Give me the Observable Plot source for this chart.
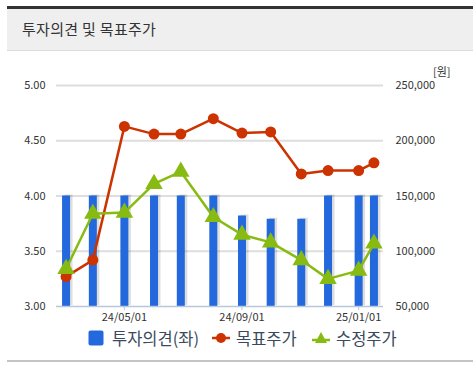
<!DOCTYPE html>
<html><head><meta charset="utf-8">
<script src="https://cdn.jsdelivr.net/npm/d3@7"></script>
<script src="https://cdn.jsdelivr.net/npm/@observablehq/plot@0.6"></script>
<style>
body{margin:0;background:#fff;font-family:"Noto Sans CJK KR","Noto Sans",sans-serif;}
#wrap{position:relative;width:473px;height:366px;overflow:hidden;}
#hdr{position:absolute;left:7px;top:6px;width:466px;height:41px;background:#efefef;border-top:3px solid #333;border-bottom:1px solid #dcdcdc;}
#title{position:absolute;left:15px;top:9px;font-size:15px;color:#333;letter-spacing:0.3px;}
#chart{position:absolute;left:0;top:55px;}
#unit{position:absolute;left:433px;top:63px;font-size:11px;color:#333;}
#legend{position:absolute;left:0;top:327px;width:473px;height:22px;font-size:16.5px;color:#3a4a5c;}
.li{position:absolute;top:0;display:flex;align-items:center;height:22px;}
#bottom{position:absolute;left:7px;top:360px;width:466px;height:2px;background:#c4c4c4;}
</style></head>
<body><div id="wrap">
<div id="hdr"><div id="title">투자의견 및 목표주가</div></div>
<div id="chart"></div>
<div id="unit">[원]</div>
<div id="legend"></div>
<div id="bottom"></div>
</div>
<script>
const dates = ["2024-03-01","2024-03-29","2024-05-01","2024-06-01","2024-06-29","2024-08-02","2024-09-01","2024-10-01","2024-11-02","2024-11-30","2025-01-01","2025-01-17"];
const opinion = [4.00,4.00,4.00,4.00,4.00,4.00,3.82,3.79,3.79,4.00,4.00,4.00];
const targetPrice = [77000,92000,213000,206000,206000,220000,207000,208000,170000,173000,173000,180000];
const adjPrice = [84000,134000,135000,161000,172000,131000,115000,108000,92000,75000,82500,107000];
const xTicks = ["2024-05-01","2024-09-01","2025-01-01"];
const leftTicks = [3.0,3.5,4.0,4.5,5.0];
const rightTicks = [50000,100000,150000,200000,250000];
const legendLabels = ["투자의견(좌)","목표주가","수정주가"];

const blue = "#2368dc", red = "#cc3300", green = "#88bb11";
const parse = d3.utcParse("%Y-%m-%d");
const toLeft = v => 3 + (v - 50000) / 100000;
const rows = dates.map((d,i)=>({date:parse(d), op:opinion[i], tp:toLeft(targetPrice[i]), ap:toLeft(adjPrice[i])}));

const chart = Plot.plot({
  width:473, height:272,
  marginTop:30, marginBottom:21, marginLeft:56, marginRight:90,
  style:{fontFamily:'"Noto Sans CJK KR","Noto Sans",sans-serif', fontSize:"11px", color:"#333", background:"transparent"},
  x:{type:"utc", domain:[parse("2024-02-20"), parse("2025-01-27")]},
  y:{domain:[3,5]},
  marks:[
    Plot.ruleY(leftTicks.filter(d=>d>3), {stroke:"#dedede", strokeWidth:2}),
    Plot.ruleX(rows, {x:"date", y1:3, y2:"op", stroke:"#000", strokeOpacity:0.13, strokeWidth:8, dx:2.5, dy:-1}),
    Plot.ruleX(rows, {x:"date", y1:3, y2:"op", stroke:blue, strokeWidth:8}),
    Plot.ruleY([3], {stroke:"#b8c8dc", strokeWidth:1.5}),
    Plot.axisX({ticks:xTicks.map(parse), tickFormat:d3.utcFormat("%y/%m/%d"), tickSize:4, tickPadding:3, stroke:"#b8c8dc", fontSize:11, label:null}),
    Plot.axisY({anchor:"left", ticks:leftTicks, tickFormat:d=>d.toFixed(2), tickSize:0, tickPadding:11, label:null, fontSize:11}),
    Plot.axisY({anchor:"right", ticks:rightTicks.map(toLeft), tickFormat:(d,i)=>d3.format(",")(rightTicks[i]), tickSize:0, tickPadding:12, label:null, fontSize:11}),
    Plot.line(rows, {x:"date", y:"tp", stroke:red, strokeWidth:2.5}),
    Plot.dot(rows, {x:"date", y:"tp", fill:red, r:5.5}),
    Plot.line(rows, {x:"date", y:"ap", stroke:green, strokeWidth:2.5}),
    Plot.dot(rows, {x:"date", y:"ap", fill:green, symbol:"triangle", r:6.5})
  ]
});
document.getElementById("chart").appendChild(chart);

const leg = document.getElementById("legend");
const items = [
  {x:88, svg:`<svg width="16" height="16"><rect x="0.5" y="0.5" width="15" height="15" rx="2" fill="${blue}"/></svg>`},
  {x:212, svg:`<svg width="18" height="16"><line x1="0" y1="8" x2="18" y2="8" stroke="${red}" stroke-width="2.5"/><circle cx="9" cy="8" r="5" fill="${red}"/></svg>`},
  {x:312, svg:`<svg width="18" height="16"><line x1="0" y1="10" x2="18" y2="10" stroke="${green}" stroke-width="2.5"/><path d="M9,2 L15,13 L3,13 Z" fill="${green}"/></svg>`}
];
items.forEach((it,i)=>{
  const el = document.createElement("div");
  el.className="li"; el.style.left = it.x+"px";
  el.innerHTML = it.svg + `<span style="margin-left:${i===0?8:6}px">${legendLabels[i]}</span>`;
  leg.appendChild(el);
});
</script>
</body></html>
